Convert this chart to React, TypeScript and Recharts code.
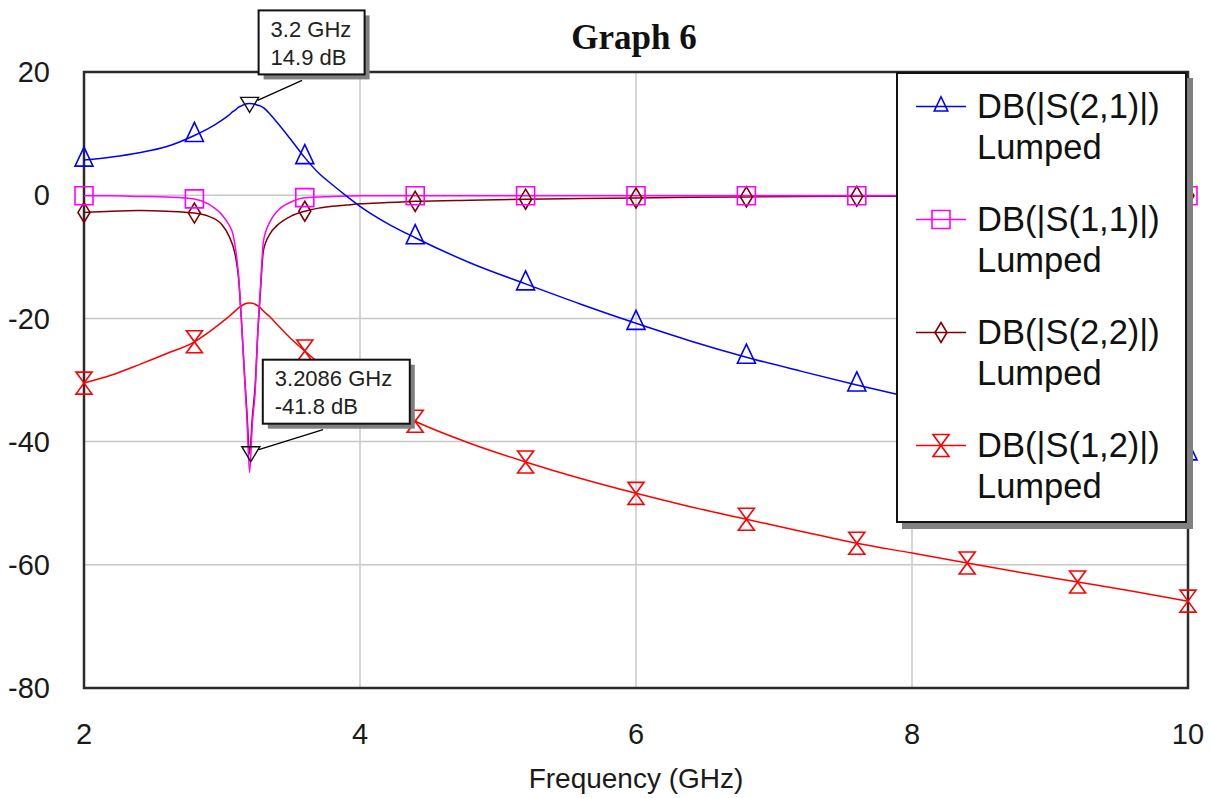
import React from "react";
import {
  ComposedChart,
  Line,
  XAxis,
  YAxis,
  CartesianGrid,
  ReferenceArea,
  ReferenceDot,
} from "recharts";

// frequency grid (GHz), denser around the 3.2 GHz resonance
const FREQ = [
  2.0, 2.2, 2.4, 2.6, 2.8, 2.9, 3.0, 3.05, 3.08, 3.1, 3.12, 3.14, 3.16, 3.18,
  3.2, 3.22, 3.24, 3.26, 3.28, 3.3, 3.35, 3.4, 3.5, 3.6, 3.7, 3.8, 3.9, 4.0,
  4.2, 4.4, 4.8, 5.2, 5.6, 6.0, 6.4, 6.8, 7.2, 7.6, 8.0, 8.4, 8.8, 9.2, 9.6,
  10.0,
];

const S21 = [
  5.7, 6.2, 6.9, 7.9, 9.7, 10.8, 12.2, 13.0, 13.6, 13.9, 14.3, 14.5, 14.7,
  14.85, 14.9, 14.85, 14.75, 14.6, 14.45, 14.2, 13.1, 11.8, 9.0, 6.1, 3.6, 1.7,
  -0.1, -1.8, -4.6, -6.9, -11.0, -14.4, -17.7, -20.8, -23.7, -26.3, -28.6,
  -30.8, -32.9, -35.0, -36.8, -38.6, -40.3, -42.0,
];

const S11 = [
  -0.1, -0.1, -0.2, -0.3, -0.6, -1.4, -3.2, -4.8, -6.4, -9.0, -13, -20, -28,
  -36, -45, -37, -32, -22, -14.5, -7.5, -4.2, -2.6, -1.1, -0.4, -0.3, -0.2,
  -0.15, -0.1, -0.1, -0.1, -0.1, -0.1, -0.1, -0.1, -0.1, -0.1, -0.1, -0.1,
  -0.1, -0.1, -0.1, -0.1, -0.1, -0.1,
];

const S22 = [
  -2.8, -2.6, -2.5, -2.6, -2.9, -3.4, -4.8, -6.6, -8.3, -10.2, -13.5, -20, -28,
  -35, -42, -36, -31, -22, -15, -9.0, -6.2, -4.9, -3.4, -2.6, -2.1, -1.8, -1.6,
  -1.4, -1.2, -1.0, -0.8, -0.65, -0.55, -0.45, -0.35, -0.28, -0.22, -0.18,
  -0.15, -0.12, -0.1, -0.1, -0.1, -0.1,
];

const S12 = [
  -30.5, -29.2, -27.5, -25.7, -23.8, -22.3, -20.6, -19.7, -19.1, -18.7, -18.3,
  -18.0, -17.7, -17.55, -17.5, -17.55, -17.7, -17.95, -18.3, -18.8, -19.8,
  -21.0, -23.3, -25.3, -27.2, -28.9, -30.4, -31.8, -34.4, -36.7, -40.3, -43.3,
  -46.0, -48.4, -50.6, -52.6, -54.6, -56.5, -58.1, -59.7, -61.3, -62.8, -64.3,
  -65.9,
];

const MARKER_FREQ = [2, 2.8, 3.6, 4.4, 5.2, 6, 6.8, 7.6, 8.4, 9.2, 10];
const X_TICKS = [2, 4, 6, 8, 10];
const Y_TICKS = [-80, -60, -40, -20, 0, 20];

const PEAK_FREQ = [3.2, 3.2086];
const PEAK_DB = [14.9, -41.8];
const PEAK_TEXT = [
  ["3.2 GHz", "14.9 dB"],
  ["3.2086 GHz", "-41.8 dB"],
];

const SERIES = [
  { key: "s21", name: "DB(|S(2,1)|)", color: "#0000ff", shape: "triangle" },
  { key: "s11", name: "DB(|S(1,1)|)", color: "#ff00ff", shape: "square" },
  { key: "s22", name: "DB(|S(2,2)|)", color: "#800000", shape: "diamond" },
  { key: "s12", name: "DB(|S(1,2)|)", color: "#ff0000", shape: "hourglass" },
];

// draw order: red, brown, magenta, blue on top
const DRAW_ORDER = ["s12", "s22", "s11", "s21"];

const data = FREQ.map((f, i) => ({
  freq: f,
  s21: S21[i],
  s11: S11[i],
  s22: S22[i],
  s12: S12[i],
}));

const SANS = "'Liberation Sans', Arial, sans-serif";
const SERIF = "'Liberation Serif', 'Times New Roman', serif";

function markerPath(shape: string, cx: number, cy: number, s = 1): string {
  switch (shape) {
    case "triangle":
      return `M${cx} ${cy - 13 * s} L${cx + 9 * s} ${cy + 6 * s} L${cx - 9 * s} ${cy + 6 * s} Z`;
    case "square":
      return `M${cx - 9 * s} ${cy - 9 * s} h${18 * s} v${18 * s} h${-18 * s} Z`;
    case "diamond":
      return `M${cx} ${cy - 10 * s} L${cx + 6 * s} ${cy} L${cx} ${cy + 10 * s} L${cx - 6 * s} ${cy} Z`;
    default:
      return `M${cx - 8 * s} ${cy - 11 * s} H${cx + 8 * s} L${cx - 8 * s} ${cy + 11 * s} H${cx + 8 * s} Z`;
  }
}

const makeDot = (shape: string, color: string) => (props: any) => {
  const { cx, cy, payload, index } = props;
  const show = MARKER_FREQ.some((f) => Math.abs(f - payload.freq) < 1e-6);
  if (!show || cx == null || cy == null) return <g key={`${shape}-${index}`} />;
  return (
    <path
      key={`${shape}-${index}`}
      d={markerPath(shape, cx, cy)}
      fill="none"
      stroke={color}
      strokeWidth={1.6}
    />
  );
};

// callout box widths / offsets (layout only)
const CALLOUT_W = [106, 147];
const CALLOUT_DX = [9, 12];

function Callout(props: any) {
  const { cx, cy, idx } = props;
  const w = CALLOUT_W[idx];
  const h = 64;
  const bx = cx + CALLOUT_DX[idx];
  const by = cy - 93;
  const [l1, l2] = PEAK_TEXT[idx];
  return (
    <g>
      <line
        x1={cx + 8}
        y1={cy - 3}
        x2={bx + w * 0.41}
        y2={by + h + 6}
        stroke="#000"
        strokeWidth={1.3}
      />
      <path
        d={`M${cx - 9} ${cy - 6} L${cx + 9} ${cy - 6} L${cx} ${cy + 9} Z`}
        fill="none"
        stroke="#111"
        strokeWidth={1.4}
      />
      <rect x={bx + 5} y={by + 5} width={w} height={h} fill="#808080" />
      <rect x={bx} y={by} width={w} height={h} fill="#fff" stroke="#111" strokeWidth={2} />
      <text x={bx + 12} y={by + 19} dy="0.35em" fontSize={22} fontFamily={SANS} fill="#222">
        {l1}
      </text>
      <text x={bx + 12} y={by + 47} dy="0.35em" fontSize={22} fontFamily={SANS} fill="#222">
        {l2}
      </text>
    </g>
  );
}

function LegendBox() {
  return (
    <div
      style={{
        position: "absolute",
        left: 896,
        top: 72,
        width: 291,
        height: 451,
        boxSizing: "border-box",
        border: "2px solid #111",
        background: "#fff",
        boxShadow: "6px 6px 0 0 #808080",
        zIndex: 10,
      }}
    >
      {SERIES.map((s, i) => (
        <div key={s.key} style={{ position: "absolute", left: 0, top: 12 + i * 113 }}>
          <svg
            width={80}
            height={41}
            style={{ position: "absolute", left: 0, top: 0, overflow: "visible" }}
          >
            <line x1={18} y1={20.5} x2={68} y2={20.5} stroke={s.color} strokeWidth={1.6} />
            <path
              d={markerPath(s.shape, 43, 20.5, s.shape === "triangle" ? 0.75 : 1)}
              fill="none"
              stroke={s.color}
              strokeWidth={1.6}
            />
          </svg>
          <div
            style={{
              position: "absolute",
              left: 79,
              top: 0,
              fontFamily: SANS,
              fontSize: 34.5,
              lineHeight: "41px",
              color: "#111",
              whiteSpace: "nowrap",
            }}
          >
            <div>{s.name}</div>
            <div>Lumped</div>
          </div>
        </div>
      ))}
    </div>
  );
}

export default function App() {
  return (
    <div
      style={{
        position: "fixed",
        left: 0,
        top: 0,
        width: 1211,
        height: 798,
        background: "#fff",
      }}
    >
      <div
        style={{
          position: "absolute",
          left: 0,
          width: 1268,
          top: 18,
          textAlign: "center",
          fontFamily: SERIF,
          fontWeight: "bold",
          fontSize: 35,
          lineHeight: "40px",
          color: "#111",
        }}
      >
        Graph 6
      </div>
      <div style={{ position: "absolute", left: 0, top: 0 }}>
        <ComposedChart
          width={1211}
          height={798}
          data={data}
          margin={{ top: 72, right: 23, left: 4, bottom: 0 }}
        >
          <CartesianGrid stroke="#c8c8c8" strokeWidth={1.5} />
          <XAxis
            type="number"
            dataKey="freq"
            domain={[2, 10]}
            ticks={X_TICKS}
            height={110}
            axisLine={false}
            tickLine={false}
            tickSize={0}
            tickMargin={35}
            tick={{ fontSize: 29, fill: "#1a1a1a", fontFamily: SANS }}
            label={{
              value: "Frequency (GHz)",
              position: "insideBottom",
              offset: 10,
              fontSize: 28,
              fill: "#1a1a1a",
              fontFamily: SANS,
            }}
          />
          <YAxis
            type="number"
            domain={[-80, 20]}
            ticks={Y_TICKS}
            width={80}
            axisLine={false}
            tickLine={false}
            tickSize={0}
            tickMargin={34}
            tick={{ fontSize: 29, fill: "#1a1a1a", fontFamily: SANS }}
          />
          <ReferenceArea
            x1={2}
            x2={10}
            y1={-80}
            y2={20}
            fill="none"
            fillOpacity={0}
            stroke="#2b2b2b"
            strokeWidth={2.5}
          />
          {DRAW_ORDER.map((k) => {
            const s = SERIES.find((x) => x.key === k)!;
            return (
              <Line
                key={s.key}
                type="monotone"
                dataKey={s.key}
                name={s.name}
                stroke={s.color}
                strokeWidth={1.5}
                dot={makeDot(s.shape, s.color)}
                activeDot={false}
                isAnimationActive={false}
              />
            );
          })}
          {PEAK_FREQ.map((f, i) => (
            <ReferenceDot
              key={`peak-${i}`}
              x={f}
              y={PEAK_DB[i]}
              r={0}
              ifOverflow="visible"
              shape={(p: any) => <Callout {...p} idx={i} />}
            />
          ))}
        </ComposedChart>
      </div>
      <LegendBox />
    </div>
  );
}
